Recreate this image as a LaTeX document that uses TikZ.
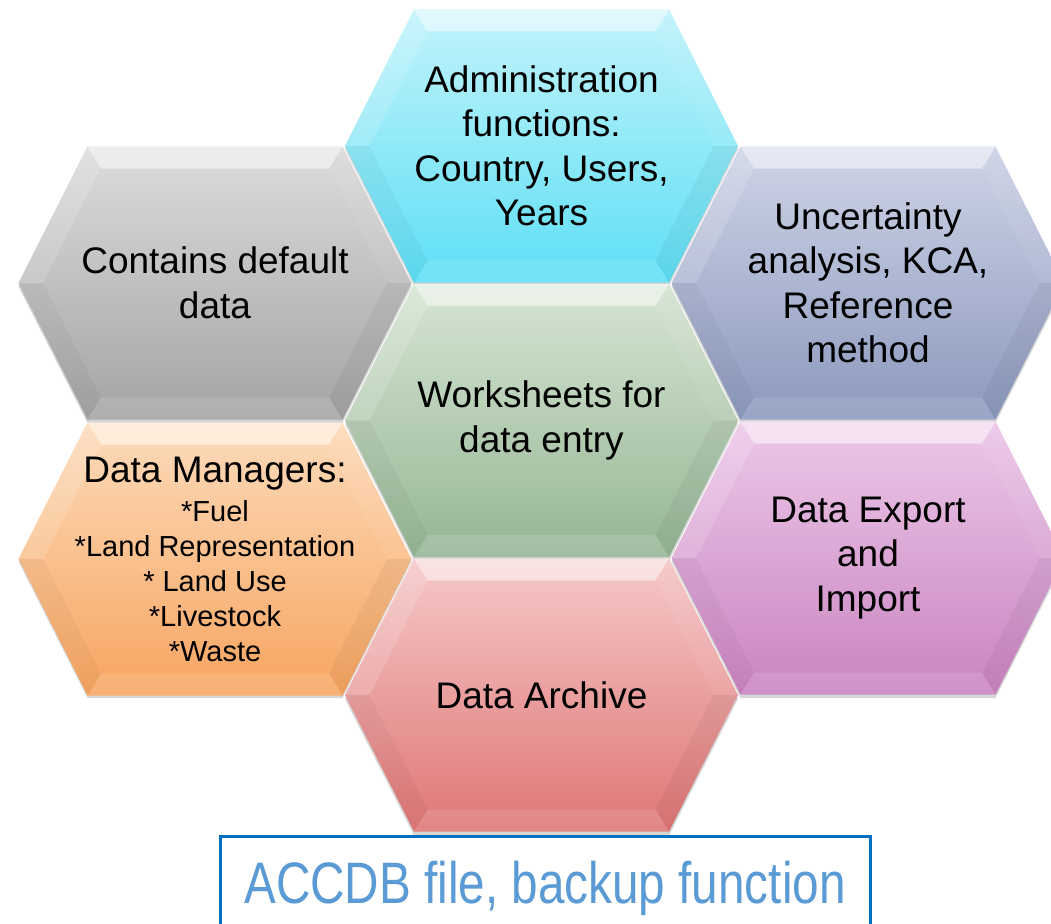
\documentclass[tikz,border=0pt]{standalone}
\usepackage{fontspec}
\setmainfont{Liberation Sans}
\definecolor{admT}{HTML}{C2F3FB}\definecolor{admB}{HTML}{5EDFF5}
\definecolor{grayT}{HTML}{DCDCDC}\definecolor{grayB}{HTML}{A4A4A4}
\definecolor{uncT}{HTML}{CED4E6}\definecolor{uncB}{HTML}{8C99BE}
\definecolor{wsT}{HTML}{D6E5D3}\definecolor{wsB}{HTML}{96B695}
\definecolor{dmT}{HTML}{FDDBBB}\definecolor{dmB}{HTML}{F7A560}
\definecolor{expT}{HTML}{ECC8E8}\definecolor{expB}{HTML}{CA84C1}
\definecolor{arcT}{HTML}{F6C8C8}\definecolor{arcB}{HTML}{DF7676}
\definecolor{boxblue}{HTML}{0070C0}
\definecolor{boxtext}{HTML}{5B9BD5}
\tikzset{
  hextext/.style={align=center, text=black, font=\fontsize{37}{44.5}\selectfont, inner sep=0pt},
  smalllist/.style={font=\fontsize{29}{35}\selectfont},
  hexshadow/.style={fill=black, opacity=0.16},
  facetlight/.style={fill=white, opacity=#1},
  facetdark/.style={fill=black, opacity=#1},
}
\newcommand\hexout{(-196.5,0) -- (-127.5,-136.5) -- (127.5,-136.5) -- (196.5,0) -- (127.5,136.5) -- (-127.5,136.5) -- cycle}
\newcommand\hexshad[2]{\fill[hexshadow,shift={(#1,#2+5)}] \hexout;}
\newcommand\hexa[7][]{%
  \begin{scope}[shift={(#3,#4)}]
    \shade[top color=#5, bottom color=#6] \hexout;
    \fill[facetlight=0.5] (-127.5,-136.5) -- (127.5,-136.5) -- (114,-114.5) -- (-114,-114.5) -- cycle;
    \fill[facetlight=0.15] (-196.5,0) -- (-127.5,-136.5) -- (-114,-114.5) -- (-171.9,0) -- cycle;
    \fill[facetlight=0.06] (196.5,0) -- (127.5,-136.5) -- (114,-114.5) -- (171.9,0) -- cycle;
    \fill[facetdark=0.03] (-196.5,0) -- (-127.5,136.5) -- (-114,114.5) -- (-171.9,0) -- cycle;
    \fill[facetdark=0.045] (196.5,0) -- (127.5,136.5) -- (114,114.5) -- (171.9,0) -- cycle;
    \fill[facetlight=0.12] (-127.5,136.5) -- (127.5,136.5) -- (114,114.5) -- (-114,114.5) -- cycle;
    \node[hextext,#1] (#2) at (0,0) {#7};
  \end{scope}}
\begin{document}
\begin{tikzpicture}[x=1pt,y=-1pt]
\useasboundingbox (0,0) rectangle (1051,923);
\clip (0,0) rectangle (1051,923);
\fill[white] (0,0) rectangle (1051,923);
% shadows
\hexshad{541.5}{144}
\hexshad{215}{281.5}
\hexshad{868}{281.5}
\hexshad{541.5}{419}
\hexshad{215}{556.5}
\hexshad{868}{556.5}
\hexshad{541.5}{694}
% hexagons
\hexa{admin}{541.5}{146}{admT}{admB}{Administration\\functions:\\Country, Users,\\Years}
\hexa{default}{215}{283}{grayT}{grayB}{Contains default\\data}
\hexa{uncert}{868}{283}{uncT}{uncB}{Uncertainty\\analysis, KCA,\\Reference\\method}
\hexa{work}{541.5}{420.5}{wsT}{wsB}{Worksheets for\\data entry}
\hexa[smalllist]{managers}{215}{559}{dmT}{dmB}{{\fontsize{37}{44.5}\selectfont Data Managers:}\\[4pt]*Fuel\\*Land Representation\\* Land Use\\*Livestock\\*Waste}
\hexa{export}{868}{558}{expT}{expB}{Data Export\\and\\Import}
\hexa{archive}{541.5}{695}{arcT}{arcB}{Data Archive}
% bottom box
\node[draw=boxblue, line width=3pt, minimum width=650pt, minimum height=104pt, inner sep=0pt, text=boxtext] (box) at (545,888)
  {\scalebox{0.815}[1]{\fontsize{58.5}{60}\selectfont ACCDB file, backup function}};
\end{tikzpicture}
\end{document}
